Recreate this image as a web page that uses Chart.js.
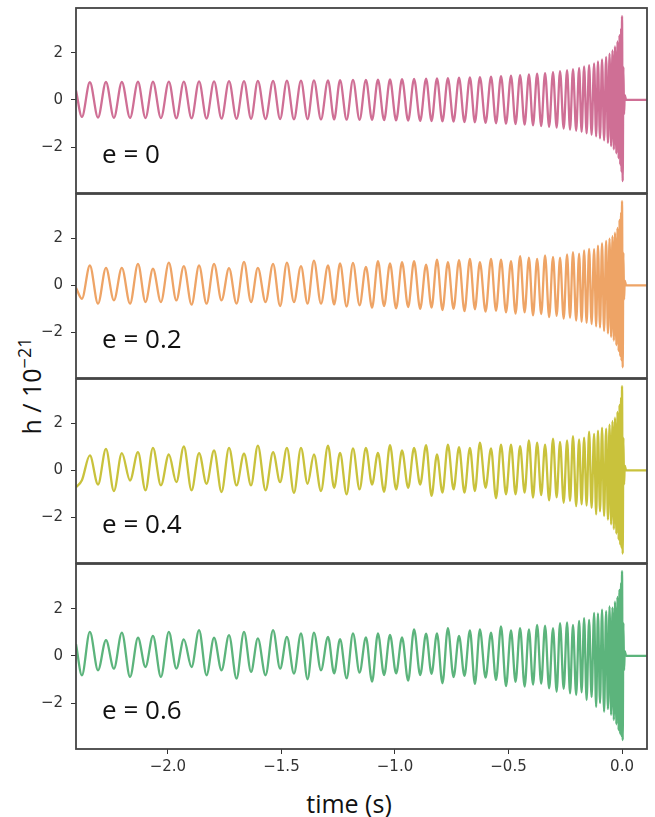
<!DOCTYPE html>
<html>
<head>
<meta charset="utf-8">
<script src="https://cdn.jsdelivr.net/npm/chart.js@4.4.1/dist/chart.umd.min.js"></script>
<style>
  body { margin: 0; background: #fff; }
  #wrap { position: relative; width: 655px; height: 817px; overflow: hidden; }
  #wrap canvas { position: absolute; left: 0; }
  .axis-title { position: absolute; font-family: "Open Sans", sans-serif; font-size: 25px; color: #111; white-space: nowrap; }
  .axis-title sup { font-size: 18px; }
</style>
</head>
<body>
<div id="wrap">
  <div class="axis-title" style="left:30px; top:386px; transform: translate(-50%,-50%) rotate(-90deg);">h / 10<sup>−21</sup></div>
  <div class="axis-title" style="left:349px; top:803px; transform: translate(-50%,-50%);">time (s)</div>
</div>
<script>
// time axis (s): extrema of the waveforms
const startTime = -2.405;
const troughTimes = [-2.379, -2.308, -2.238, -2.167, -2.099, -2.031, -1.963, -1.896, -1.830, -1.764,
  -1.698, -1.634, -1.570, -1.506, -1.445, -1.385, -1.326, -1.268, -1.213, -1.156,
  -1.101, -1.048, -0.995, -0.942, -0.889, -0.839, -0.791, -0.742, -0.694, -0.648,
  -0.601, -0.555, -0.511, -0.469, -0.429, -0.392, -0.356, -0.321, -0.288, -0.257,
  -0.229, -0.202, -0.178, -0.156, -0.134, -0.114, -0.097, -0.079, -0.062, -0.048,
  -0.036, -0.025, -0.015, -0.008, -0.002, 0.003];
const peakTimes = [-2.344, -2.273, -2.203, -2.132, -2.066, -1.996, -1.930, -1.863, -1.797, -1.731,
  -1.665, -1.604, -1.537, -1.476, -1.414, -1.357, -1.295, -1.242, -1.185, -1.128,
  -1.075, -1.022, -0.969, -0.916, -0.863, -0.815, -0.767, -0.718, -0.670, -0.626,
  -0.577, -0.533, -0.489, -0.449, -0.410, -0.374, -0.339, -0.304, -0.273, -0.242,
  -0.216, -0.189, -0.167, -0.145, -0.123, -0.106, -0.088, -0.070, -0.055, -0.042,
  -0.031, -0.020, -0.011, -0.004, 0.000];
const ringTimes = [0.006, 0.009, 0.012, 0.018, 0.11];

const labels = ["e = 0", "e = 0.2", "e = 0.4", "e = 0.6"];
const xTicks = [-2.0, -1.5, -1.0, -0.5, 0.0];
const yTicks = [-2, 0, 2];

// e = 0
const startE0 = 0.4;
const peaksE0 = [0.75, 0.76, 0.76, 0.77, 0.77, 0.78, 0.78, 0.79, 0.79, 0.80,
  0.80, 0.81, 0.81, 0.82, 0.82, 0.83, 0.83, 0.84, 0.85, 0.85,
  0.86, 0.87, 0.88, 0.89, 0.90, 0.91, 0.92, 0.94, 0.95, 0.97,
  0.99, 1.01, 1.03, 1.05, 1.08, 1.11, 1.14, 1.18, 1.22, 1.26,
  1.31, 1.36, 1.42, 1.48, 1.55, 1.63, 1.72, 1.83, 1.96, 2.10,
  2.27, 2.48, 2.75, 3.05, 3.55];
const troughsE0 = [-0.72, -0.75, -0.76, -0.76, -0.77, -0.77, -0.78, -0.78, -0.79, -0.79,
  -0.80, -0.80, -0.81, -0.81, -0.82, -0.82, -0.83, -0.83, -0.84, -0.85,
  -0.85, -0.86, -0.87, -0.88, -0.89, -0.90, -0.91, -0.92, -0.94, -0.95,
  -0.97, -0.99, -1.01, -1.03, -1.05, -1.08, -1.11, -1.14, -1.18, -1.22,
  -1.26, -1.31, -1.36, -1.42, -1.48, -1.55, -1.63, -1.72, -1.83, -1.96,
  -2.10, -2.27, -2.48, -2.75, -3.05, -3.45];
const ringE0 = [1.4, -0.6, 0.2, 0, 0];

// e = 0.2
const startE2 = -0.1;
const peaksE2 = [0.85, 0.75, 0.75, 0.92, 0.71, 0.97, 0.82, 0.85, 0.92, 0.74,
  1.00, 0.75, 0.92, 0.97, 0.82, 1.06, 0.85,
  0.94, 0.96, 0.79, 1.03, 0.94, 0.99, 1.03, 0.89, 1.10, 0.99, 1.08, 1.13, 0.99, 1.13, 1.10, 1.03,
  1.25, 1.18, 1.13, 1.28, 1.22, 1.18, 1.32, 1.42, 1.35, 1.49, 1.56, 1.55, 1.70, 1.80, 1.90, 2.00,
  2.10, 2.25, 2.45, 2.80, 3.10, 3.60];
const troughsE2 = [-0.57, -0.78, -0.64, -0.78, -0.71, -0.71, -0.64, -0.82, -0.78, -0.64,
  -0.78, -0.71, -0.71, -0.88, -0.71, -0.78, -0.78,
  -0.81, -0.90, -0.85, -0.95, -0.88, -0.98, -0.92, -1.00, -0.95, -1.05, -1.00, -1.10, -1.02, -1.12, -1.08, -1.15,
  -1.20, -1.15, -1.28, -1.22, -1.35, -1.30, -1.42, -1.38, -1.50, -1.55, -1.60, -1.65, -1.75, -1.80, -1.95, -2.05,
  -2.20, -2.35, -2.55, -2.80, -3.00, -3.20, -3.50];
const ringE2 = [1.4, -0.6, 0.2, 0, 0];

// e = 0.4
const startE4 = -0.72;
const peaksE4 = [0.64, 0.92, 0.74, 0.78, 0.96, 0.68, 1.02, 0.74, 0.85, 0.96,
  0.71, 1.06, 0.78, 0.96, 0.96, 0.68, 1.06,
  0.75, 0.94, 0.96, 0.75, 1.08, 0.85, 0.96, 1.08, 0.68, 1.10, 0.99, 0.96, 1.18, 0.94, 1.10, 1.10,
  1.03, 1.28, 1.18, 1.10, 1.36, 1.22, 1.28, 1.46, 1.32, 1.40, 1.65, 1.56, 1.70, 1.82, 1.78, 1.95,
  2.10, 2.25, 2.50, 2.80, 3.10, 3.60];
const troughsE4 = [-0.42, -0.60, -0.88, -0.43, -0.85, -0.64, -0.50, -0.85, -0.57, -0.92,
  -0.64, -0.64, -0.85, -0.50, -0.96, -0.57, -0.88,
  -0.74, -1.02, -0.81, -0.60, -0.91, -0.81, -0.74, -0.60, -1.09, -0.95, -0.81, -0.95, -0.88, -0.74, -1.19, -1.02,
  -1.02, -0.95, -1.16, -1.05, -1.28, -1.15, -1.38, -1.30, -1.52, -1.45, -1.50, -1.60, -1.87, -1.75, -1.95, -2.10,
  -2.30, -2.50, -2.70, -2.95, -3.15, -3.30, -3.55];
const ringE4 = [1.4, -0.6, 0.2, 0, 0];

// e = 0.6
const startE6 = 0.5;
const peaksE6 = [1.02, 0.67, 0.99, 0.77, 0.85, 1.02, 0.70, 1.09, 0.77, 0.88,
  1.02, 0.74, 1.09, 0.81, 0.95, 0.99, 0.81,
  0.71, 0.96, 0.79, 0.96, 0.89, 0.79, 1.13, 0.94, 0.96, 1.18, 0.85, 1.08, 1.13, 0.99, 1.25, 1.08,
  1.18, 1.13, 1.32, 1.28, 1.18, 1.39, 1.42, 1.32, 1.49, 1.60, 1.53, 1.82, 1.80, 1.96, 1.90, 2.10,
  2.05, 2.30, 2.50, 2.80, 3.10, 3.60];
const troughsE6 = [-0.82, -0.61, -0.54, -0.89, -0.47, -0.89, -0.54, -0.47, -0.82, -0.61,
  -0.96, -0.68, -0.82, -0.54, -0.75, -0.99, -0.61,
  -0.74, -0.95, -0.71, -1.09, -0.81, -0.74, -1.05, -0.81, -0.76, -1.16, -0.90, -0.85, -1.19, -0.92, -1.02, -1.28,
  -1.10, -1.30, -1.22, -1.18, -1.38, -1.52, -1.40, -1.59, -1.66, -1.55, -1.87, -1.75, -2.16, -2.00, -2.37, -2.25,
  -2.50, -2.72, -2.90, -3.15, -3.30, -3.40, -3.57];
const ringE6 = [1.4, -0.6, 0.2, 0, 0];

const colors = ["#cf6f95", "#eea466", "#c9c23c", "#5cb47c"];
const panelTops = [8, 194, 379, 564];
const panelBottoms = [193, 378, 563, 749];

function buildPoints(start, troughs, peaks, ring) {
  const pts = [{ x: startTime, y: start }];
  for (let i = 0; i < peaks.length; i++) {
    pts.push({ x: troughTimes[i], y: troughs[i] });
    pts.push({ x: peakTimes[i], y: peaks[i] });
  }
  pts.push({ x: troughTimes[troughTimes.length - 1], y: troughs[troughs.length - 1] });
  ringTimes.forEach((t, i) => pts.push({ x: t, y: ring[i] }));
  return pts;
}

const minus = v => (v < 0 ? "\u2212" : "");

const framePlugin = {
  id: "frame",
  afterDatasetsDraw(chart, args, opts) {
    const { ctx, chartArea: a, scales } = chart;
    ctx.save();
    ctx.fillStyle = "#111";
    ctx.font = '26px "Open Sans"';
    ctx.textBaseline = "middle";
    ctx.fillText(opts.label, scales.x.getPixelForValue(-2.29), scales.y.getPixelForValue(-2.35));
    ctx.strokeStyle = "#444";
    ctx.lineWidth = 1.8;
    ctx.strokeRect(a.left, a.top, a.right - a.left, a.bottom - a.top);
    ctx.restore();
  }
};

function noPad(s) {
  s.paddingTop = 0;
  s.paddingBottom = 0;
  s.paddingLeft = 0;
  s.paddingRight = 0;
}

function makePanel(i, start, troughs, peaks, ring) {
  const isLast = i === 3;
  const top = panelTops[i];
  const bottom = panelBottoms[i];
  const canvas = document.createElement("canvas");
  canvas.width = 655;
  canvas.height = (bottom - top) + 8 + (isLast ? 40 : 8);
  canvas.style.top = (top - 8) + "px";
  document.getElementById("wrap").appendChild(canvas);

  new Chart(canvas.getContext("2d"), {
    type: "line",
    data: {
      datasets: [{
        data: buildPoints(start, troughs, peaks, ring),
        borderColor: colors[i],
        borderWidth: 2.3,
        pointRadius: 0,
        cubicInterpolationMode: "monotone",
        fill: false
      }]
    },
    options: {
      responsive: false,
      animation: false,
      devicePixelRatio: 1,
      layout: { padding: { top: 8, right: 8, bottom: isLast ? 0 : 8, left: 0 } },
      plugins: { legend: { display: false }, tooltip: { enabled: false }, frame: { label: labels[i] } },
      scales: {
        x: {
          type: "linear",
          min: -2.405,
          max: 0.11,
          display: isLast,
          afterBuildTicks: s => { s.ticks = xTicks.map(v => ({ value: v })); },
          afterFit: s => { if (isLast) { s.height = 40; } noPad(s); },
          grid: { drawOnChartArea: false, drawTicks: true, tickLength: 5, color: "#333" },
          border: { display: false },
          ticks: {
            padding: 4,
            color: "#333",
            font: { family: "DejaVu Sans", size: 15 },
            callback: v => minus(v) + Math.abs(v).toFixed(1)
          }
        },
        y: {
          type: "linear",
          min: -3.95,
          max: 3.9,
          afterBuildTicks: s => { s.ticks = yTicks.map(v => ({ value: v })); },
          afterFit: s => { s.width = 76; noPad(s); },
          grid: { drawOnChartArea: false, drawTicks: true, tickLength: 5, color: "#333" },
          border: { display: false },
          ticks: {
            padding: 8,
            color: "#333",
            font: { family: "DejaVu Sans", size: 15 },
            callback: v => minus(v) + Math.abs(v)
          }
        }
      }
    },
    plugins: [framePlugin]
  });
}

makePanel(0, startE0, troughsE0, peaksE0, ringE0);
makePanel(1, startE2, troughsE2, peaksE2, ringE2);
makePanel(2, startE4, troughsE4, peaksE4, ringE4);
makePanel(3, startE6, troughsE6, peaksE6, ringE6);
</script>
</body>
</html>
